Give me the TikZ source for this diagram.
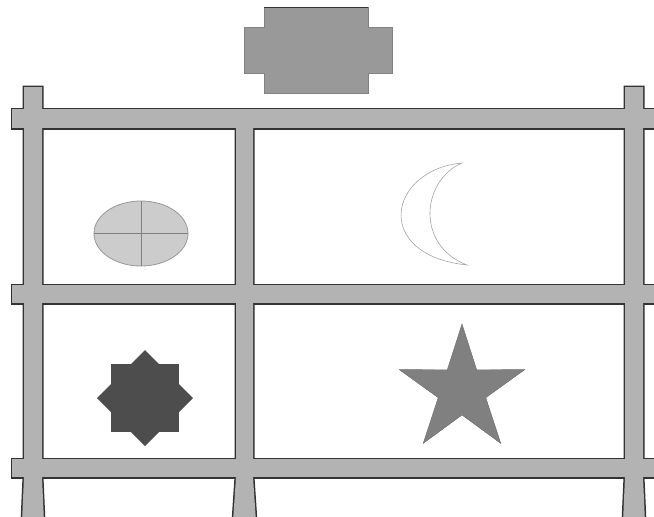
\documentclass[tikz,border=0pt]{standalone}
\definecolor{framefill}{HTML}{B3B3B3}
\definecolor{framestroke}{HTML}{333333}
\definecolor{topfill}{HTML}{999999}
\definecolor{ellfill}{HTML}{CCCCCC}
\definecolor{octfill}{HTML}{4D4D4D}
\definecolor{starfill}{HTML}{808080}
\begin{document}
\begin{tikzpicture}[x=1pt,y=-1pt,
  barpath/.style={draw=framestroke,line width=3pt,line join=miter},
  barfill/.style={fill=framefill,draw=none}]
\useasboundingbox (0,0) rectangle (654,517);
\fill[white] (0,0) rectangle (654,517);
\clip (0,0) rectangle (654,517);
% frame: outline pass then fill pass
\foreach \st in {barpath,barfill}{
  \path[\st] (24,87) -- (42,87) -- (42,477) -- (44,522) -- (22,522) -- (24,477) -- cycle;
  \path[\st] (236,116) -- (253,116) -- (253,477) -- (256,522) -- (233,522) -- (236,477) -- cycle;
  \path[\st] (625,87) -- (643,87) -- (643,477) -- (645,522) -- (623,522) -- (625,477) -- cycle;
  \path[\st] (12,109) rectangle (664,128);
  \path[\st] (12,285) rectangle (664,303);
  \path[\st] (12,459) rectangle (664,477);
}
% top shape
\path[fill=topfill,draw=topfill!85!black,line width=0.6pt]
  (264,7) -- (368,7) -- (368,27) -- (392,27) -- (392,73) -- (368,73) -- (368,93)
  -- (264,93) -- (264,73) -- (244,73) -- (244,27) -- (264,27) -- cycle;
\draw[framestroke,line width=1pt] (264,7) -- (368,7);
% ellipse
\draw[fill=ellfill,draw=gray!80,line width=0.8pt] (141,233.5) ellipse [x radius=47, y radius=32.5];
\draw[gray,line width=0.8pt] (141,201) -- (141,266) (94,233.5) -- (188,233.5);
% moon
\draw[gray!70,line width=0.6pt,fill=white]
  (462,163) .. controls (388,170) and (372,255) .. (467,265)
  .. controls (415,245) and (422,180) .. (462,163) -- cycle;
% octagram
\fill[octfill] (111,364) rectangle (179,432);
\fill[octfill] (145,350) -- (193,398) -- (145,446) -- (97,398) -- cycle;
% star
\fill[starfill,draw=starfill!85!black,line width=0.4pt]
  (462,324) -- (476.7,369.8) -- (524.8,369.6) -- (485.8,397.7) -- (500.8,443.4)
  -- (462,415) -- (423.2,443.4) -- (438.2,397.7) -- (399.2,369.6) -- (447.3,369.8) -- cycle;
\end{tikzpicture}
\end{document}
